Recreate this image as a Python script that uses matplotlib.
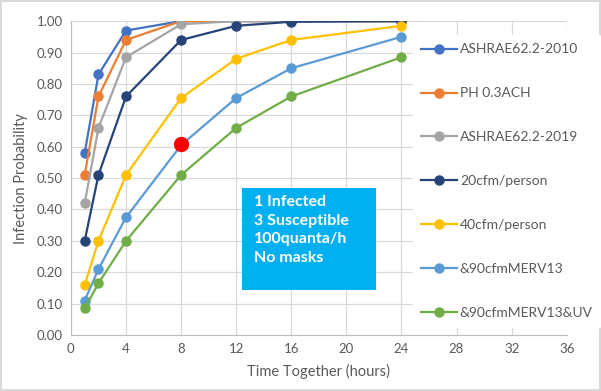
import matplotlib
matplotlib.use("Agg")
import matplotlib.pyplot as plt
from matplotlib.patches import Rectangle

plt.rcParams["font.family"] = ["Lato", "DejaVu Sans"]

hours = [1, 2, 4, 8, 12, 16, 24]

series_names = [
    "ASHRAE62.2-2010",
    "PH 0.3ACH",
    "ASHRAE62.2-2019",
    "20cfm/person",
    "40cfm/person",
    "&90cfmMERV13",
    "&90cfmMERV13&UV",
]
ashrae_2010 = [0.58, 0.83, 0.97, 1.00, 1.00, 1.00, 1.00]
ph_03ach = [0.51, 0.76, 0.94, 1.00, 1.00, 1.00, 1.00]
ashrae_2019 = [0.42, 0.66, 0.885, 0.99, 1.00, 1.00, 1.00]
cfm20 = [0.30, 0.51, 0.76, 0.94, 0.985, 0.998, 1.00]
cfm40 = [0.16, 0.30, 0.51, 0.755, 0.88, 0.94, 0.985]
merv13 = [0.11, 0.21, 0.375, 0.605, 0.755, 0.85, 0.95]
merv13_uv = [0.085, 0.165, 0.30, 0.51, 0.66, 0.76, 0.885]
series_values = [ashrae_2010, ph_03ach, ashrae_2019, cfm20, cfm40, merv13, merv13_uv]
colors = ["#4472C4", "#ED7D31", "#A5A5A5", "#264478", "#FFC000", "#5B9BD5", "#70AD47"]

highlight_x = [8]
highlight_y = [0.61]

note_lines = ["1 Infected", "3 Susceptible", "100quanta/h", "No masks"]

x_ticks = list(range(0, 37, 4))
y_ticks = [i / 10 for i in range(11)]

fig = plt.figure(figsize=(6.01, 3.91), dpi=100)
fig.patch.set_edgecolor("#D9D9D9")
fig.patch.set_linewidth(1.5)
ax = fig.add_axes([0.118, 0.143, 0.825, 0.803])

for name, vals, c in zip(series_names, series_values, colors):
    ax.plot(hours, vals, color=c, lw=1.6, marker="o", ms=6.5, label=name, zorder=3)

ax.plot(highlight_x, highlight_y, "o", color="#FF0000", ms=10, zorder=5)

ax.set_xlim(0, 36)
ax.set_ylim(0, 1.0)
ax.set_xticks(x_ticks)
ax.set_yticks(y_ticks)
ax.set_yticklabels([f"{v:.2f}" for v in y_ticks])
ax.grid(True, color="#D9D9D9", lw=0.9)
ax.set_axisbelow(True)
for s in ["top", "right"]:
    ax.spines[s].set_visible(False)
for s in ["left", "bottom"]:
    ax.spines[s].set_color("#BFBFBF")
ax.tick_params(length=0, labelsize=9.5, colors="#595959", pad=6)
ax.set_xlabel("Time Together (hours)", fontsize=10.5, color="#595959", labelpad=6)
ax.set_ylabel("Infection Probability", fontsize=10.5, color="#595959", labelpad=6)

# annotation box
ax.add_patch(Rectangle((0.345, 0.143), 0.27, 0.325, transform=ax.transAxes,
                       facecolor="#00B0F0", edgecolor="none", zorder=6))
ax.text(0.37, 0.445, "\n".join(note_lines), transform=ax.transAxes, va="top",
        ha="left", color="white", fontsize=11.5, fontweight="bold",
        linespacing=1.4, zorder=7)

leg = fig.legend(loc="upper left", bbox_to_anchor=(0.675, 0.928), frameon=True,
                 fontsize=10, labelspacing=2.3, handlelength=2.6,
                 handletextpad=0.2, borderpad=0.6)
leg.get_frame().set_facecolor("white")
leg.get_frame().set_edgecolor("white")
leg.get_frame().set_alpha(1)
for t in leg.get_texts():
    t.set_color("#595959")

fig.savefig("out.png", dpi=100)
